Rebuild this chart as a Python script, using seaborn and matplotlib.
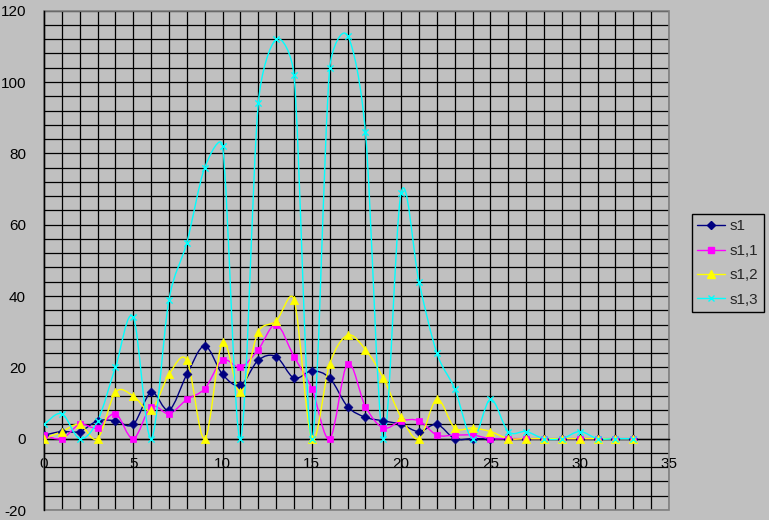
import numpy as np
import pandas as pd
import matplotlib
matplotlib.use("Agg")
import matplotlib.pyplot as plt
from matplotlib.path import Path
from matplotlib.patches import PathPatch, Rectangle
from matplotlib.lines import Line2D
from matplotlib.ticker import MultipleLocator
import seaborn as sns

# ---- data ----
x_values = list(range(34))
s1 = [1, 2, 2, 5, 5, 4, 13, 8, 18, 26, 18, 15, 22, 23, 17, 19, 17, 9, 6, 5,
      4, 2, 4, 0, 0, 0, 0, 0, 0, 0, 0, 0, 0, 0]
s1_1 = [1, 0, 4, 3, 7, 0, 9, 7, 11, 14, 22, 20, 25, 32, 23, 14, 0, 21, 9, 3,
        5, 5, 1, 1, 1, 0, 0, 0, 0, 0, 0, 0, 0, 0]
s1_2 = [0, 2, 4, 0, 13, 12, 8, 18, 22, 0, 27, 13, 30, 33, 39, 0, 21, 29, 25, 17,
        6, 0, 11, 3, 3, 2, 0, 0, 0, 0, 0, 0, 0, 0]
s1_3 = [4, 7, 0, 5, 20, 34, 0, 39, 55, 76, 82, 0, 94, 112, 102, 0, 104, 113, 86, 0,
        69, 44, 24, 14, 0, 11, 2, 2, 0, 0, 2, 0, 0, 0]
series_names = ["s1", "s1,1", "s1,2", "s1,3"]
x_ticks = [0, 5, 10, 15, 20, 25, 30, 35]
y_ticks = [-20, 0, 20, 40, 60, 80, 100, 120]

colors = {"s1": "#000080", "s1,1": "#FF00FF", "s1,2": "#FFFF00", "s1,3": "#00FFFF"}
markers = {"s1": "D", "s1,1": "s", "s1,2": "^", "s1,3": "x"}
msizes = {"s1": 4.5, "s1,1": 5, "s1,2": 6, "s1,3": 4.5}

df = pd.DataFrame({"x": x_values, "s1": s1, "s1,1": s1_1, "s1,2": s1_2, "s1,3": s1_3})
long = df.melt(id_vars="x", var_name="series", value_name="value")

BG = "#C0C0C0"
sns.set_theme(style="white")
plt.rcParams["font.family"] = ["Liberation Sans", "DejaVu Sans"]

fig = plt.figure(figsize=(7.69, 5.2), dpi=100, facecolor=BG)
W, H = 769, 520
ax = fig.add_axes([44 / W, 1 - 510 / H, (669 - 44) / W, (510 - 10.7) / H])
ax.set_facecolor(BG)
XMIN, XMAX, YMIN, YMAX = 0, 35, -20, 120
SX = (669 - 44) / (XMAX - XMIN)
SY = (510 - 10.7) / (YMAX - YMIN)


def smooth_path(xs, ys):
    """Excel-like smoothed line: Bezier segments, arms clamped to half segment."""
    pts = np.column_stack([np.asarray(xs, float) * SX, np.asarray(ys, float) * SY])
    n = len(pts)
    verts = [pts[0]]
    codes = [Path.MOVETO]
    for i in range(n - 1):
        p0 = pts[i - 1] if i > 0 else pts[i]
        p1 = pts[i]
        p2 = pts[i + 1]
        p3 = pts[i + 2] if i + 2 < n else pts[i + 1]
        d12 = np.hypot(*(p2 - p1))
        a1 = (p2 - p0) / 6.0
        a2 = (p3 - p1) / 6.0
        for a in (a1, a2):
            la = np.hypot(*a)
            if la > d12 / 2 and la > 0:
                a *= (d12 / 2) / la
        verts += [p1 + a1, p2 - a2, p2]
        codes += [Path.CURVE4] * 3
    verts = np.array(verts)
    verts[:, 0] /= SX
    verts[:, 1] /= SY
    return Path(verts, codes)


for k, name in enumerate(series_names):
    sub = long[long["series"] == name]
    patch = PathPatch(smooth_path(sub["x"], sub["value"]), facecolor="none",
                      edgecolor=colors[name], lw=1.0, zorder=3 + k * 0.1)
    ax.add_patch(patch)
for k, name in enumerate(series_names):
    sub = long[long["series"] == name]
    sns.scatterplot(data=sub, x="x", y="value", ax=ax, color=colors[name],
                    marker=markers[name], s=msizes[name] ** 2,
                    edgecolor=colors[name] if markers[name] != "x" else None,
                    linewidth=1.0 if markers[name] == "x" else 0.5,
                    legend=False, zorder=4 + k * 0.1)

ax.set_xlim(XMIN, XMAX)
ax.set_ylim(YMIN, YMAX)
ax.set_xlabel("")
ax.set_ylabel("")

ax.xaxis.set_minor_locator(MultipleLocator(1))
ax.yaxis.set_minor_locator(MultipleLocator(4))
ax.set_xticks(x_ticks)
ax.set_yticks(y_ticks)
ax.grid(which="both", color="black", lw=0.9, zorder=1)
ax.set_axisbelow(True)

for s in ["top", "right"]:
    ax.spines[s].set_visible(False)
ax.spines["left"].set_color("black")
ax.spines["left"].set_linewidth(1.0)
ax.spines["bottom"].set_position(("data", 0))
ax.spines["bottom"].set_color("black")
ax.spines["bottom"].set_linewidth(1.0)

border = Rectangle((0, 0), 1, 1, transform=ax.transAxes, fill=False,
                   edgecolor="#808080", lw=1.2, zorder=2, clip_on=False)
ax.add_patch(border)

ax.tick_params(axis="x", which="major", direction="out", length=5, width=1,
               color="black", pad=8, labelsize=11, labelcolor="black")
ax.tick_params(axis="y", which="major", direction="out", length=5, width=1,
               color="black", pad=8, labelsize=11, labelcolor="black")
ax.tick_params(which="minor", length=0)
ax.set_xticklabels([str(v) for v in x_ticks])
ax.set_yticklabels([str(v) for v in y_ticks])

handles = [Line2D([0], [0], color=colors[n], lw=1.0, marker=markers[n],
                  markersize=msizes[n], markerfacecolor=colors[n],
                  markeredgecolor=colors[n]) for n in series_names]
leg = fig.legend(handles, series_names, loc="upper right",
                 bbox_to_anchor=(764 / W, 1 - 214 / H),
                 frameon=True, fancybox=False, edgecolor="black", facecolor=BG,
                 framealpha=1, fontsize=11, handlelength=1.85, labelspacing=0.68,
                 borderpad=0.36, handletextpad=0.3, borderaxespad=0)
leg.get_frame().set_linewidth(1.0)

fig.savefig("out.png", dpi=100, facecolor=BG)
